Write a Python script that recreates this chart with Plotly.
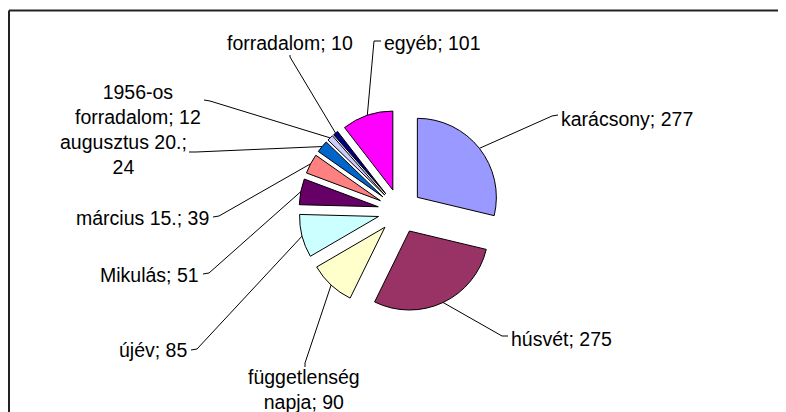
import math
import plotly.graph_objects as go

# holiday counts, clockwise from 12 o'clock
labels = ["karácsony", "húsvét", "függetlenség napja", "újév", "Mikulás",
          "március 15.", "augusztus 20.", "1956-os forradalom", "forradalom", "egyéb"]
values = [277, 275, 90, 85, 51, 39, 24, 12, 10, 101]
label_texts = ["karácsony; 277", "húsvét; 275", "függetlenség<br>napja; 90", "újév; 85",
               "Mikulás; 51", "március 15.; 39", "augusztus 20.;<br>24",
               "1956-os<br>forradalom; 12", "forradalom; 10", "egyéb; 101"]
colors = ["#9999FF", "#993366", "#FFFFCC", "#CCFFFF", "#660066",
          "#FF8080", "#0066CC", "#CCCCFF", "#000080", "#FF00FF"]

# page body has an 8px margin, so the figure is shrunk and axes offset
OFF = 8
FW, FH = 778, 404
CX, CY, R, PULL = 400, 211, 79, 0.28
FONT = dict(family="Liberation Sans, Arial, sans-serif", size=19.5, color="black")

# label placement (page pixels): x, y, anchor
label_pos = [(559, 119, "left"), (509, 339, "left"), (304, 389.5, "center"),
             (189, 350, "right"), (201, 275, "right"), (211, 218, "right"),
             (123, 154.5, "center"), (138, 104.5, "center"), (290, 43, "center"),
             (382, 43, "left")]
# leader start near each label
leader_start = [[(558, 115), (552, 116)], [(508, 336), (502, 336)],
                [(305, 367), (305, 363)], [(191, 350), (197, 349)],
                [(203, 274), (209, 273)], [(213, 217), (219, 216)],
                [(189, 152), (196, 152)], [(204, 100), (210, 101)],
                [(290, 55), (290, 57)], [(381, 41), (374, 41)]]

fig = go.Figure()

half = R * (1 + PULL)
fig.add_trace(
    go.Pie(
        labels=labels,
        values=values,
        sort=False,
        direction="clockwise",
        rotation=0,
        pull=[PULL] * len(values),
        marker=dict(colors=colors, line=dict(color="black", width=1)),
        textinfo="none",
        hoverinfo="label+value",
        showlegend=False,
        domain=dict(x=[(CX - OFF - half) / FW, (CX - OFF + half) / FW],
                    y=[1 - (CY - OFF + half) / FH, 1 - (CY - OFF - half) / FH]),
    )
)

# leader lines to the middle of each slice arc
total = sum(values)
lx, ly = [], []
cum = 0
for v, start in zip(values, leader_start):
    mid = (cum + v / 2) / total * 2 * math.pi
    cum += v
    dist = R * (1 + PULL)
    px = CX + dist * math.sin(mid)
    py = CY - dist * math.cos(mid)
    for sx, sy in start:
        lx.append(sx)
        ly.append(sy)
    lx += [px, None]
    ly += [py, None]

fig.add_trace(
    go.Scatter(
        x=lx, y=ly, mode="lines",
        line=dict(color="black", width=1),
        hoverinfo="skip", showlegend=False,
    )
)

for txt, (x, y, anchor) in zip(label_texts, label_pos):
    fig.add_annotation(
        x=x, y=y, xref="x", yref="y", text=txt, showarrow=False,
        xanchor=anchor, yanchor="middle", align="center", font=FONT,
    )

# chart area border (top and left visible)
fig.add_shape(type="line", x0=9, y0=10.5, x1=OFF + FW + 10, y1=10.5, xref="x", yref="y",
              line=dict(color="#222222", width=2))
fig.add_shape(type="line", x0=9, y0=10.5, x1=9, y1=OFF + FH + 10, xref="x", yref="y",
              line=dict(color="#222222", width=2))

fig.update_layout(
    width=FW,
    height=FH,
    margin=dict(l=0, r=0, t=0, b=0),
    paper_bgcolor="white",
    plot_bgcolor="white",
    showlegend=False,
    xaxis=dict(range=[OFF, OFF + FW], visible=False, fixedrange=True),
    yaxis=dict(range=[OFF + FH, OFF], visible=False, fixedrange=True),
)

fig.write_html("out.html")
